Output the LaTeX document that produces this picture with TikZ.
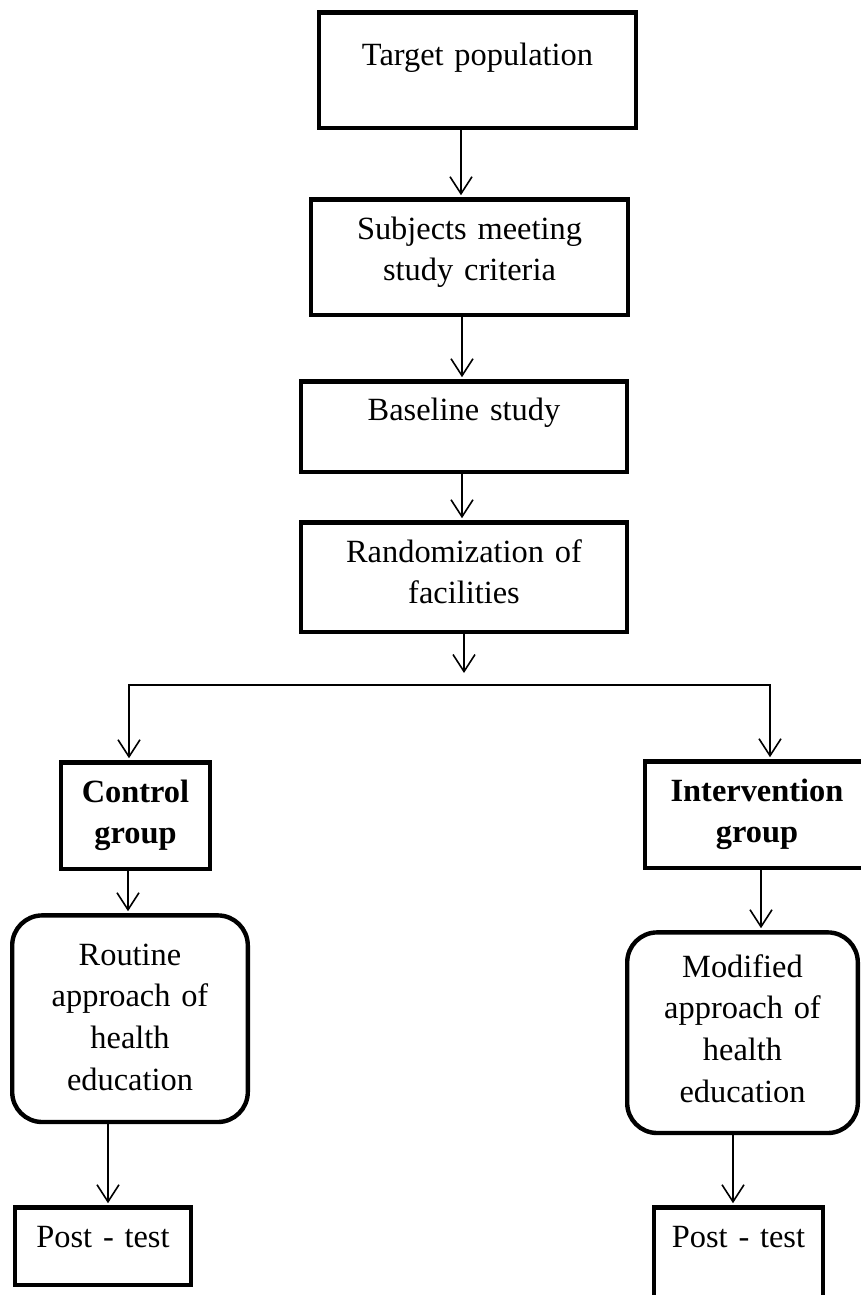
\documentclass[tikz,border=0pt]{standalone}
\usepackage{fontspec}
\setmainfont{Liberation Serif}
\usetikzlibrary{arrows.meta}

\begin{document}
\begin{tikzpicture}[
	box/.style={draw, line width=2.2pt, inner sep=0pt, align=center, font=\fontsize{16.2pt}{20.8pt}\selectfont},
	roundbox/.style={box, rounded corners=15pt},
	arr/.style={line width=0.8pt, -{Straight Barb[length=8.5pt, width=11pt]}, shorten >=1pt}
	]
			%%%%% START %%%%%
			
			\useasboundingbox (0, 0) rectangle (430.5pt, -647.5pt);
			\clip (0, 0) rectangle (430.5pt, -647.5pt);
			
			\node[box, anchor=north, text width=158.3pt, text height=26.5pt, text depth=31.3pt] (target) at (238.75pt, -5.1pt) {Target population};
			\node[box, anchor=north, text width=158.3pt, text height=19.9pt, text depth=37.9pt] (subj) at (234.75pt, -98.6pt) {Subjects meeting\\study criteria};
			\node[box, anchor=north, text width=162.8pt, text height=19.4pt, text depth=25.9pt] (base) at (232pt, -189.6pt) {Baseline study};
			\node[box, anchor=north, text width=162.8pt, text height=19.9pt, text depth=34.9pt] (random) at (232pt, -260.1pt) {Randomization of\\facilities};
			
			\coordinate (fork) at (232pt, -342.5pt);
			
			\node[box, anchor=north, text width=74.3pt, text height=19.9pt, text depth=33.4pt] (ctrl) at (67.75pt, -380.1pt) {\textbf{Control}\\\textbf{group}};
			\node[box, anchor=north, text width=111.8pt, text height=19.9pt, text depth=33.4pt] (inter) at (378.5pt, -379.6pt) {\textbf{Intervention}\\\textbf{group}};
			
			\node[roundbox, anchor=north, text width=117.8pt, text height=24.9pt, text depth=78.4pt] (routine) at (65pt, -456.6pt) {Routine\\approach of\\health\\education};
			\node[roundbox, anchor=north, text width=115.3pt, text height=22.4pt, text depth=77.9pt] (modified) at (371.25pt, -465.1pt) {Modified\\approach of\\health\\education};
			
			\node[box, anchor=north, text width=87.8pt, text height=19.9pt, text depth=18.9pt] (postc) at (51.5pt, -602.6pt) {Post - test};
			\node[box, anchor=north, text width=84.3pt, text height=19.9pt, text depth=35pt] (posti) at (369.25pt, -602.6pt) {Post - test};
			
			\draw[arr] ([xshift=-8.25pt]target.south) -- ([xshift=-8.25pt]target.south |- subj.north);
			\draw[arr] ([xshift=-3.75pt]subj.south) -- ([xshift=-3.75pt]subj.south |- base.north);
			\draw[arr] ([xshift=-1pt]base.south) -- ([xshift=-1pt]base.south |- random.north);
			\draw[arr] (random.south) -- ([yshift=5pt]fork);
			
			\draw[arr] (fork) -| ([xshift=-3.25pt]ctrl.north);
			\draw[arr] (fork) -| ([xshift=6.5pt]inter.north);
			
			\draw[arr] ([xshift=-3.75pt]ctrl.south) -- ([xshift=-3.75pt]ctrl.south |- routine.north);
			\draw[arr] ([xshift=2pt]inter.south) -- ([xshift=2pt]inter.south |- modified.north);
			
			\draw[arr] ([xshift=-11pt]routine.south) -- ([xshift=-11pt]routine.south |- postc.north);
			\draw[arr] ([xshift=-4.75pt]modified.south) -- ([xshift=-4.75pt]modified.south |- posti.north);
			
			%%%%% END %%%%%
\end{tikzpicture}
\end{document}
